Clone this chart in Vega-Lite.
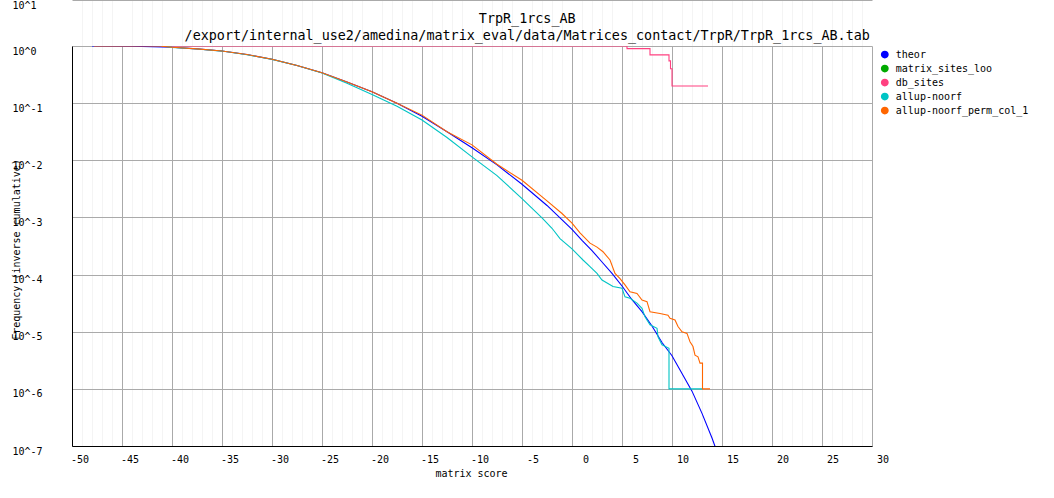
{
"$schema": "https://vega.github.io/schema/vega-lite/v6.json",
"width": 800, "height": 400,
"autosize": {"type": "none"},
"padding": {"left": 72, "top": 46, "right": 182, "bottom": 52},
"background": "white",
"config": {
 "view": {"stroke": null},
 "font": "DejaVu Sans Mono",
 "axis": {"labelFont": "DejaVu Sans Mono", "labelFontSize": 10, "labelColor": "black", "titleFont": "DejaVu Sans Mono", "titleFontSize": 10, "titleFontWeight": "normal", "titleColor": "black", "tickSize": 0, "ticks": false, "labelOverlap": false, "labelFlush": false, "labelBound": false, "gridWidth": 1, "domainColor": "black", "domainWidth": 1},
 "legend": {"orient": "none", "legendX": 807.8, "legendY": 3.6, "padding": 0, "symbolType": "circle", "symbolSize": 40, "labelFont": "DejaVu Sans Mono", "labelFontSize": 10, "labelColor": "black", "rowPadding": 0, "labelOffset": 6}
},
"data": {"values": [
{"series":"theor","x":-48,"y":1,"i":0},
{"series":"theor","x":-44,"y":0.993,"i":1},
{"series":"theor","x":-40,"y":0.948,"i":2},
{"series":"theor","x":-37.5,"y":0.891,"i":3},
{"series":"theor","x":-35,"y":0.817,"i":4},
{"series":"theor","x":-32.5,"y":0.708,"i":5},
{"series":"theor","x":-30,"y":0.585,"i":6},
{"series":"theor","x":-27.5,"y":0.457,"i":7},
{"series":"theor","x":-25,"y":0.341,"i":8},
{"series":"theor","x":-22.5,"y":0.234,"i":9},
{"series":"theor","x":-20,"y":0.158,"i":10},
{"series":"theor","x":-17.5,"y":0.1,"i":11},
{"series":"theor","x":-15,"y":0.0589,"i":12},
{"series":"theor","x":-12.5,"y":0.0316,"i":13},
{"series":"theor","x":-10,"y":0.0166,"i":14},
{"series":"theor","x":-7.5,"y":0.00832,"i":15},
{"series":"theor","x":-5,"y":0.0038,"i":16},
{"series":"theor","x":-2.5,"y":0.00162,"i":17},
{"series":"theor","x":0,"y":0.000617,"i":18},
{"series":"theor","x":1,"y":0.000398,"i":19},
{"series":"theor","x":2,"y":0.000263,"i":20},
{"series":"theor","x":3,"y":0.000166,"i":21},
{"series":"theor","x":4,"y":0.000105,"i":22},
{"series":"theor","x":5,"y":6.31e-5,"i":23},
{"series":"theor","x":6,"y":3.63e-5,"i":24},
{"series":"theor","x":7,"y":2.24e-5,"i":25},
{"series":"theor","x":8,"y":1.26e-5,"i":26},
{"series":"theor","x":9,"y":6.46e-6,"i":27},
{"series":"theor","x":10,"y":3.8e-6,"i":28},
{"series":"theor","x":11,"y":1.86e-6,"i":29},
{"series":"theor","x":12,"y":9.12e-7,"i":30},
{"series":"theor","x":13,"y":3.72e-7,"i":31},
{"series":"theor","x":14,"y":1.38e-7,"i":32},
{"series":"theor","x":14.6,"y":7.08e-8,"i":33},
{"series":"db_sites","x":-40.5,"y":1,"i":100},
{"series":"db_sites","x":5.5,"y":1,"i":101},
{"series":"db_sites","x":5.5,"y":0.9,"i":102},
{"series":"db_sites","x":7.8,"y":0.9,"i":103},
{"series":"db_sites","x":7.8,"y":0.7,"i":104},
{"series":"db_sites","x":9.7,"y":0.7,"i":105},
{"series":"db_sites","x":9.7,"y":0.55,"i":106},
{"series":"db_sites","x":9.85,"y":0.55,"i":107},
{"series":"db_sites","x":9.85,"y":0.4,"i":108},
{"series":"db_sites","x":10,"y":0.4,"i":109},
{"series":"db_sites","x":10,"y":0.2,"i":110},
{"series":"db_sites","x":13.6,"y":0.2,"i":111},
{"series":"allup-noorf","x":-41,"y":1,"i":200},
{"series":"allup-noorf","x":-40,"y":0.946,"i":201},
{"series":"allup-noorf","x":-37.5,"y":0.888,"i":202},
{"series":"allup-noorf","x":-35,"y":0.815,"i":203},
{"series":"allup-noorf","x":-32.5,"y":0.705,"i":204},
{"series":"allup-noorf","x":-30,"y":0.584,"i":205},
{"series":"allup-noorf","x":-27.5,"y":0.455,"i":206},
{"series":"allup-noorf","x":-25,"y":0.338,"i":207},
{"series":"allup-noorf","x":-22.5,"y":0.222,"i":208},
{"series":"allup-noorf","x":-20,"y":0.142,"i":209},
{"series":"allup-noorf","x":-17.5,"y":0.0885,"i":210},
{"series":"allup-noorf","x":-15,"y":0.0507,"i":211},
{"series":"allup-noorf","x":-12.5,"y":0.0251,"i":212},
{"series":"allup-noorf","x":-10,"y":0.0115,"i":213},
{"series":"allup-noorf","x":-7.5,"y":0.0054,"i":214},
{"series":"allup-noorf","x":-5,"y":0.00214,"i":215},
{"series":"allup-noorf","x":-3,"y":0.00098,"i":216},
{"series":"allup-noorf","x":-2,"y":0.000646,"i":217},
{"series":"allup-noorf","x":-1.2,"y":0.000427,"i":218},
{"series":"allup-noorf","x":0,"y":0.000282,"i":219},
{"series":"allup-noorf","x":1.1,"y":0.00018,"i":220},
{"series":"allup-noorf","x":1.8,"y":0.000138,"i":221},
{"series":"allup-noorf","x":2.5,"y":0.000105,"i":222},
{"series":"allup-noorf","x":3,"y":8.04e-5,"i":223},
{"series":"allup-noorf","x":4.1,"y":6.17e-5,"i":224},
{"series":"allup-noorf","x":5,"y":5.75e-5,"i":225},
{"series":"allup-noorf","x":5.3,"y":4.07e-5,"i":226},
{"series":"allup-noorf","x":5.8,"y":3.85e-5,"i":227},
{"series":"allup-noorf","x":6.5,"y":3.16e-5,"i":228},
{"series":"allup-noorf","x":7,"y":2.57e-5,"i":229},
{"series":"allup-noorf","x":7.3,"y":1.82e-5,"i":230},
{"series":"allup-noorf","x":7.8,"y":1.32e-5,"i":231},
{"series":"allup-noorf","x":8.5,"y":1.15e-5,"i":232},
{"series":"allup-noorf","x":8.6,"y":8.13e-6,"i":233},
{"series":"allup-noorf","x":9,"y":5.89e-6,"i":234},
{"series":"allup-noorf","x":9.7,"y":5.13e-6,"i":235},
{"series":"allup-noorf","x":9.7,"y":1e-6,"i":236},
{"series":"allup-noorf","x":13.05,"y":1e-6,"i":237},
{"series":"allup-noorf_perm_col_1","x":-47.8,"y":1,"i":300},
{"series":"allup-noorf_perm_col_1","x":-41,"y":1,"i":301},
{"series":"allup-noorf_perm_col_1","x":-41,"y":0.99,"i":302},
{"series":"allup-noorf_perm_col_1","x":-40,"y":0.95,"i":303},
{"series":"allup-noorf_perm_col_1","x":-37.5,"y":0.891,"i":304},
{"series":"allup-noorf_perm_col_1","x":-35,"y":0.817,"i":305},
{"series":"allup-noorf_perm_col_1","x":-32.5,"y":0.708,"i":306},
{"series":"allup-noorf_perm_col_1","x":-30,"y":0.585,"i":307},
{"series":"allup-noorf_perm_col_1","x":-27.5,"y":0.457,"i":308},
{"series":"allup-noorf_perm_col_1","x":-25,"y":0.341,"i":309},
{"series":"allup-noorf_perm_col_1","x":-22.5,"y":0.234,"i":310},
{"series":"allup-noorf_perm_col_1","x":-20,"y":0.158,"i":311},
{"series":"allup-noorf_perm_col_1","x":-17.5,"y":0.1,"i":312},
{"series":"allup-noorf_perm_col_1","x":-15,"y":0.0617,"i":313},
{"series":"allup-noorf_perm_col_1","x":-12.5,"y":0.0316,"i":314},
{"series":"allup-noorf_perm_col_1","x":-10,"y":0.0186,"i":315},
{"series":"allup-noorf_perm_col_1","x":-7.5,"y":0.00851,"i":316},
{"series":"allup-noorf_perm_col_1","x":-5,"y":0.00447,"i":317},
{"series":"allup-noorf_perm_col_1","x":-2.5,"y":0.00195,"i":318},
{"series":"allup-noorf_perm_col_1","x":-1,"y":0.00117,"i":319},
{"series":"allup-noorf_perm_col_1","x":0,"y":0.000794,"i":320},
{"series":"allup-noorf_perm_col_1","x":0.8,"y":0.000537,"i":321},
{"series":"allup-noorf_perm_col_1","x":1.8,"y":0.000355,"i":322},
{"series":"allup-noorf_perm_col_1","x":2.5,"y":0.000302,"i":323},
{"series":"allup-noorf_perm_col_1","x":3.1,"y":0.000251,"i":324},
{"series":"allup-noorf_perm_col_1","x":3.8,"y":0.00018,"i":325},
{"series":"allup-noorf_perm_col_1","x":4.3,"y":0.000105,"i":326},
{"series":"allup-noorf_perm_col_1","x":4.8,"y":8.51e-5,"i":327},
{"series":"allup-noorf_perm_col_1","x":5.3,"y":6.61e-5,"i":328},
{"series":"allup-noorf_perm_col_1","x":5.8,"y":5.01e-5,"i":329},
{"series":"allup-noorf_perm_col_1","x":6.5,"y":4.68e-5,"i":330},
{"series":"allup-noorf_perm_col_1","x":7,"y":3.59e-5,"i":331},
{"series":"allup-noorf_perm_col_1","x":7.5,"y":3.35e-5,"i":332},
{"series":"allup-noorf_perm_col_1","x":7.8,"y":2.24e-5,"i":333},
{"series":"allup-noorf_perm_col_1","x":8.8,"y":2.09e-5,"i":334},
{"series":"allup-noorf_perm_col_1","x":9.6,"y":1.95e-5,"i":335},
{"series":"allup-noorf_perm_col_1","x":9.8,"y":1.72e-5,"i":336},
{"series":"allup-noorf_perm_col_1","x":10.3,"y":1.6e-5,"i":337},
{"series":"allup-noorf_perm_col_1","x":10.6,"y":1.23e-5,"i":338},
{"series":"allup-noorf_perm_col_1","x":11,"y":1e-5,"i":339},
{"series":"allup-noorf_perm_col_1","x":11.5,"y":9.33e-6,"i":340},
{"series":"allup-noorf_perm_col_1","x":11.8,"y":6.68e-6,"i":341},
{"series":"allup-noorf_perm_col_1","x":12.1,"y":5.5e-6,"i":342},
{"series":"allup-noorf_perm_col_1","x":12.3,"y":3.89e-6,"i":343},
{"series":"allup-noorf_perm_col_1","x":12.6,"y":3.63e-6,"i":344},
{"series":"allup-noorf_perm_col_1","x":12.8,"y":2.82e-6,"i":345},
{"series":"allup-noorf_perm_col_1","x":13.05,"y":2.82e-6,"i":346},
{"series":"allup-noorf_perm_col_1","x":13.05,"y":1e-6,"i":347},
{"series":"allup-noorf_perm_col_1","x":13.8,"y":1e-6,"i":348}
]},
"layer": [
 {
  "mark": {"type": "point", "opacity": 0, "filled": true},
  "encoding": {
   "x": {"field": "x", "type": "quantitative", "scale": {"domain": [-50, 30], "nice": false, "zero": false},
    "axis": {"orient": "top", "values": [-49,-48,-47,-46,-44,-43,-42,-41,-39,-38,-37,-36,-34,-33,-32,-31,-29,-28,-27,-26,-24,-23,-22,-21,-19,-18,-17,-16,-14,-13,-12,-11,-9,-8,-7,-6,-4,-3,-2,-1,1,2,3,4,6,7,8,9,11,12,13,14,16,17,18,19,21,22,23,24,26,27,28,29],
     "grid": true, "gridColor": "#f4f4f4", "labels": false, "ticks": false, "domain": false,
     "title": ["TrpR_1rcs_AB", "/export/internal_use2/amedina/matrix_eval/data/Matrices_contact/TrpR/TrpR_1rcs_AB.tab"],
     "titleX": 454.7, "titleY": -34.3, "titleAlign": "center", "titleBaseline": "top",
     "titleFontSize": 13.4, "titleLineHeight": 17}},
   "y": {"field": "y", "type": "quantitative", "scale": {"type": "linear", "domain": [0, 1], "range": [400, -46], "nice": false, "zero": false},
    "axis": {"orient": "right", "values": [1], "grid": true, "gridColor": "#aaaaaa", "domain": false, "ticks": false,
     "labelExpr": "'10^1'", "labelAlign": "left", "labelBaseline": "top", "labelPadding": -860, "title": null}}
  }
 },
 {
  "mark": {"type": "line", "clip": true, "strokeWidth": 1.1},
  "encoding": {
   "x": {"field": "x", "type": "quantitative", "scale": {"domain": [-50, 30], "nice": false, "zero": false},
    "axis": {"orient": "bottom", "values": [-50,-45,-40,-35,-30,-25,-20,-15,-10,-5,0,5,10,15,20,25,30],
     "grid": true, "gridColor": "#aaaaaa", "labelExpr": "'' + datum.value", "labelAlign": "right", "labelOffset": 16.5, "labelBaseline": "top", "labelPadding": 8,
     "title": "matrix score", "titleX": 399, "titleY": 30.7, "titleAlign": "center", "titleBaseline": "alphabetic"}},
   "y": {"field": "y", "type": "quantitative", "scale": {"type": "log", "domain": [1e-7, 1], "nice": false},
    "axis": {"orient": "left", "values": [1e-7, 1e-6, 1e-5, 1e-4, 1e-3, 1e-2, 1e-1, 1],
     "grid": true, "gridColor": "#aaaaaa", "labelExpr": "'10^' + round(log(datum.value)/LN10)", "labelAlign": "left", "labelBaseline": "top", "labelPadding": 60,
     "title": "Frequency (inverse cumulative)", "titleX": -56, "titleY": 203, "titleAngle": -90, "titleAlign": "center", "titleBaseline": "middle"}},
   "color": {"field": "series", "type": "nominal",
    "scale": {"domain": ["theor", "matrix_sites_loo", "db_sites", "allup-noorf", "allup-noorf_perm_col_1"],
              "range": ["#0000ff", "#00aa00", "#ff4080", "#00c4c4", "#ff6600"]},
    "legend": {"title": null,
     "encode": {"symbols": {"update": {"fill": {"scale": "color", "field": "value"}, "stroke": {"value": "transparent"}, "opacity": {"value": 1}}}}}},
   "order": {"field": "i", "type": "quantitative"}
  }
 }
],
"resolve": {"scale": {"y": "independent"}, "axis": {"x": "independent", "y": "independent"}}
}
